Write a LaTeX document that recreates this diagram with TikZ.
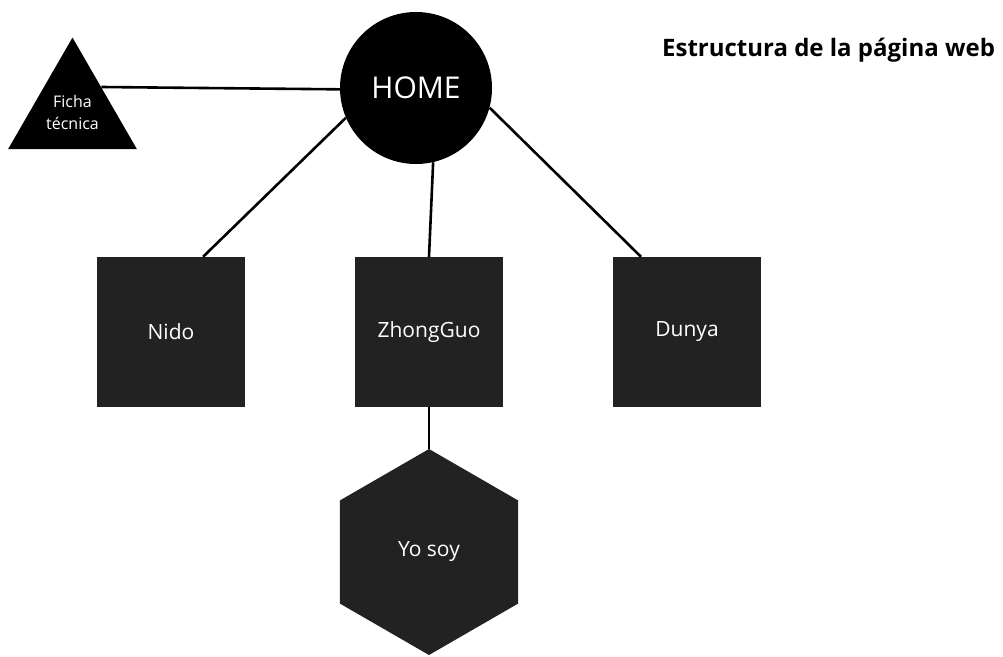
\documentclass[tikz,border=0pt]{standalone}
\usepackage{fontspec}
\setmainfont{Open Sans}
\usetikzlibrary{shapes.geometric,calc}
\definecolor{boxgray}{HTML}{222222}
\tikzset{
  link/.style={line width=2.6pt, black},
  pagebox/.style={fill=boxgray, draw=none, minimum width=148pt, minimum height=150pt, inner sep=0pt, text=white, font=\fontsize{21}{25}\selectfont},
}
\begin{document}
\begin{tikzpicture}[x=1pt,y=-1pt]
\useasboundingbox (0,0) rectangle (1003,656);
\fill[white] (0,0) rectangle (1003,656);
\node[circle, fill=black, minimum size=152pt, inner sep=0pt, text=white, font=\fontsize{30}{34}\selectfont] (home) at (416,88) {HOME};
\node[regular polygon, regular polygon sides=3, fill=black, minimum size=142pt, inner sep=0pt, text=white, align=center, font=\fontsize{16}{22}\selectfont] (ficha) at (72.5,112) {Ficha\\técnica};
\node[pagebox] (nido) at (171,332) {Nido};
\node[pagebox] (zhong) at (429,332) {ZhongGuo};
\node[pagebox] (dunya) at (687,332) {Dunya};
\node[regular polygon, regular polygon sides=6, regular polygon rotate=30, fill=boxgray, minimum size=206pt, inner sep=0pt, text=white, font=\fontsize{21}{25}\selectfont] (yosoy) at (429,552) {Yo soy};
\node[anchor=base west, inner sep=0pt, font=\fontsize{24}{28}\bfseries\selectfont] (title) at (662,56) {Estructura de la página web};
\draw[link] (ficha.41) -- (home.181);
\draw[link] (home.203) -- ($(nido.north west)!0.716!(nido.north east)$);
\draw[link] (home.-77) -- (zhong.north);
\draw[link] (home.-15.5) -- ($(dunya.north west)!0.19!(dunya.north east)$);
\draw[link] (zhong.south) -- (yosoy.corner 1);
\end{tikzpicture}
\end{document}
